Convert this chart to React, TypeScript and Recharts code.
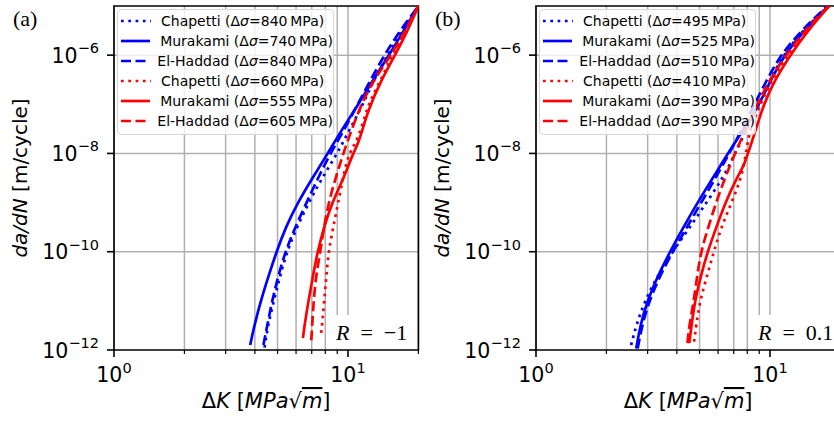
import { LineChart, Line, XAxis, YAxis, CartesianGrid, Legend, ReferenceArea } from "recharts";

// axes
const kTicks = [1, 2, 3, 4, 5, 6, 7, 8, 9, 10, 20];
const kGrid = [2, 3, 4, 5, 6, 7, 8, 9, 10];
const kMajor = [1, 10];
const kMajorExp = ["0", "1"];
const rateTicks = [1e-12, 1e-10, 1e-8, 1e-6];
const rateExp = ["\u221212", "\u221210", "\u22128", "\u22126"];
const rateGrid = [1e-10, 1e-8, 1e-6];

// (a) R = -1
const aStress = [840, 740, 840, 660, 555, 605];
const aChapBlueK = [4.4, 4.55, 4.82, 5.12, 5.48, 6.05, 6.8, 7.75, 9.0, 10.2, 11.6, 12.9, 14.8, 17.0, 20];
const aChapBlueRate = [1.12e-12, 3.16e-12, 1e-11, 3.16e-11, 1e-10, 3.16e-10, 1e-9, 3.16e-9, 1e-8, 3.16e-8, 1e-7, 3.16e-7, 1e-6, 3.16e-6, 1e-5];
const aMuraBlueK = [3.82, 3.98, 4.24, 4.57, 4.95, 5.42, 6.1, 7.05, 8.2, 9.45, 11.1, 12.8, 15.0, 17.3, 20];
const aMuraBlueRate = [1.26e-12, 3.16e-12, 1e-11, 3.16e-11, 1e-10, 3.16e-10, 1e-9, 3.16e-9, 1e-8, 3.16e-8, 1e-7, 3.16e-7, 1e-6, 3.16e-6, 1e-5];
const aElhBlueK = [4.35, 4.52, 4.74, 5.03, 5.4, 5.95, 6.65, 7.45, 8.4, 9.7, 11.0, 12.5, 14.3, 16.7, 20];
const aElhBlueRate = [1.26e-12, 3.16e-12, 1e-11, 3.16e-11, 1e-10, 3.16e-10, 1e-9, 3.16e-9, 1e-8, 3.16e-8, 1e-7, 3.16e-7, 1e-6, 3.16e-6, 1e-5];
const aChapRedK = [7.69, 7.92, 8.08, 8.26, 8.65, 9.08, 9.52, 10.06, 11.0, 11.9, 12.45, 14.7, 15.5, 17.6, 20];
const aChapRedRate = [2.24e-12, 1e-11, 3.16e-11, 1e-10, 3.16e-10, 1e-9, 3.16e-9, 1e-8, 1.86e-8, 6.46e-8, 1.2e-7, 5.75e-7, 1e-6, 3.16e-6, 1e-5];
const aMuraRedK = [6.42, 6.52, 6.78, 7.08, 7.41, 7.9, 8.55, 9.6, 10.5, 11.1, 12.2, 13.9, 15.9, 18.0, 20];
const aMuraRedRate = [1.74e-12, 3.16e-12, 1e-11, 3.16e-11, 1e-10, 3.16e-10, 1e-9, 3.16e-9, 1e-8, 1.58e-8, 7.94e-8, 3.16e-7, 1e-6, 3.16e-6, 1e-5];
const aElhRedK = [6.97, 7.13, 7.3, 7.61, 7.9, 8.27, 8.85, 9.55, 10.4, 11.4, 12.9, 15.3, 17.6, 20];
const aElhRedRate = [1.58e-12, 1e-11, 3.16e-11, 1e-10, 3.16e-10, 1e-9, 3.16e-9, 1e-8, 3.16e-8, 1e-7, 3.16e-7, 1e-6, 3.16e-6, 1e-5];

// (b) R = 0.1
const bStress = [495, 525, 510, 410, 390, 390];
const bChapBlueK = [2.55, 2.68, 2.92, 3.3, 3.83, 4.55, 5.35, 6.3, 7.1, 7.95, 9.0, 10.0, 11.4, 13.8, 17.7];
const bChapBlueRate = [1.26e-12, 3.16e-12, 1e-11, 3.16e-11, 1e-10, 3.16e-10, 1e-9, 3.16e-9, 1e-8, 3.16e-8, 1e-7, 3.16e-7, 1e-6, 3.16e-6, 1e-5];
const bMuraBlueK = [2.68, 2.79, 2.99, 3.31, 3.74, 4.27, 4.9, 5.7, 6.6, 7.75, 9.0, 10.1, 11.5, 14.0, 17.8];
const bMuraBlueRate = [1.07e-12, 3.16e-12, 1e-11, 3.16e-11, 1e-10, 3.16e-10, 1e-9, 3.16e-9, 1e-8, 3.16e-8, 1e-7, 3.16e-7, 1e-6, 3.16e-6, 1e-5];
const bElhBlueK = [2.72, 2.84, 3.05, 3.38, 3.84, 4.42, 5.08, 5.85, 6.7, 7.6, 8.6, 9.7, 11.1, 13.6, 17.6];
const bElhBlueRate = [1.07e-12, 3.16e-12, 1e-11, 3.16e-11, 1e-10, 3.16e-10, 1e-9, 3.16e-9, 1e-8, 3.16e-8, 1e-7, 3.16e-7, 1e-6, 3.16e-6, 1e-5];
const bChapRedK = [4.74, 4.84, 5.02, 5.38, 5.75, 6.2, 6.85, 7.55, 7.9, 8.2, 9.1, 10.2, 11.9, 14.2, 17.9];
const bChapRedRate = [1.48e-12, 3.16e-12, 1e-11, 3.16e-11, 1e-10, 3.16e-10, 1e-9, 3.16e-9, 1e-8, 3.16e-8, 1e-7, 3.16e-7, 1e-6, 3.16e-6, 1e-5];
const bMuraRedK = [4.52, 4.62, 4.78, 5.06, 5.41, 5.9, 6.45, 7.2, 7.75, 8.6, 9.4, 10.5, 12.2, 14.5, 17.9];
const bMuraRedRate = [1.38e-12, 3.16e-12, 1e-11, 3.16e-11, 1e-10, 3.16e-10, 1e-9, 3.16e-9, 5.5e-9, 2.57e-8, 1e-7, 3.16e-7, 1e-6, 3.16e-6, 1e-5];
const bElhRedK = [4.44, 4.52, 4.73, 4.88, 5.07, 5.45, 5.88, 6.42, 7.08, 7.9, 8.8, 10.0, 11.7, 14.1, 17.8];
const bElhRedRate = [1.38e-12, 3.16e-12, 1e-11, 3.16e-11, 1e-10, 3.16e-10, 1e-9, 3.16e-9, 1e-8, 3.16e-8, 1e-7, 3.16e-7, 1e-6, 3.16e-6, 1e-5];

const models = ["Chapetti", "Murakami", "El-Haddad", "Chapetti", "Murakami", "El-Haddad"];
const colors = ["#0000ff", "#0000ff", "#0000ff", "#ff0000", "#ff0000", "#ff0000"];
const dashes = ["2.7 4.6", undefined, "10 4.5", "2.7 4.6", undefined, "10 4.5"];

const FONT = "DejaVu Sans";
const LW = 2.7;

function build(ks: number[][], rates: number[][], stress: number[]) {
  return ks.map((k, i) => ({
    name: models[i],
    stress: stress[i],
    color: colors[i],
    dash: dashes[i],
    data: k.map((v, j) => ({ k: v, rate: rates[i][j] })),
  }));
}

const seriesA = build(
  [aChapBlueK, aMuraBlueK, aElhBlueK, aChapRedK, aMuraRedK, aElhRedK],
  [aChapBlueRate, aMuraBlueRate, aElhBlueRate, aChapRedRate, aMuraRedRate, aElhRedRate],
  aStress
);
const seriesB = build(
  [bChapBlueK, bMuraBlueK, bElhBlueK, bChapRedK, bMuraRedK, bElhRedK],
  [bChapBlueRate, bMuraBlueRate, bElhBlueRate, bChapRedRate, bMuraRedRate, bElhRedRate],
  bStress
);

function KTick(props: any) {
  const { x, y, payload } = props;
  const i = kMajor.indexOf(payload.value);
  const major = i >= 0;
  return (
    <g>
      <line x1={x} x2={x} y1={y} y2={y + (major ? 7 : 4)} stroke="#000" strokeWidth={major ? 1.6 : 1.2} />
      {major && (
        <text x={x} y={y + 32} textAnchor="middle" fontFamily={FONT} fontSize={20.5} fill="#000">
          10<tspan dy={-9.5} fontSize={14.5}>{kMajorExp[i]}</tspan>
        </text>
      )}
    </g>
  );
}

function RateTick(props: any) {
  const { x, y, payload } = props;
  const i = rateTicks.indexOf(payload.value);
  return (
    <g>
      <line x1={x - 7} x2={x} y1={y} y2={y} stroke="#000" strokeWidth={1.6} />
      <text x={x - 15} y={y + 7.5} textAnchor="end" fontFamily={FONT} fontSize={20.5} fill="#000">
        10<tspan dy={-9.5} fontSize={14.5}>{rateExp[i]}</tspan>
      </text>
    </g>
  );
}

function KTitle(props: any) {
  const vb = props.viewBox || { x: 114, y: 350, width: 304, height: 71 };
  return (
    <text x={vb.x + vb.width / 2} y={vb.y + 58} textAnchor="middle" fontFamily={FONT} fontSize={21} fill="#000">
      Δ<tspan fontStyle="italic">K</tspan> [<tspan fontStyle="italic">MPa</tspan>√
      <tspan fontStyle="italic" textDecoration="overline">m</tspan>]
    </text>
  );
}

function RateTitle(props: any) {
  const vb = props.viewBox || { x: 0, y: 6, width: 114, height: 344 };
  const cx = vb.x + 27;
  const cy = vb.y + vb.height / 2;
  return (
    <text x={cx} y={cy} transform={`rotate(-90, ${cx}, ${cy})`} textAnchor="middle" fontFamily={FONT} fontSize={20} fill="#000">
      <tspan fontStyle="italic">da/dN</tspan> [m/cycle]
    </text>
  );
}

function LegendBox({ items }: { items: any[] }) {
  return (
    <div
      style={{
        width: 217,
        height: 126,
        boxSizing: "border-box",
        border: "1px solid #d6d6d6",
        borderRadius: 4,
        background: "rgba(255,255,255,0.8)",
        fontFamily: FONT,
        fontSize: 14,
        color: "#000",
        paddingTop: 1,
      }}
    >
      {items.map((s, i) => (
        <div key={i} style={{ height: 20, display: "flex", alignItems: "center", whiteSpace: "nowrap" }}>
          <svg width={30} height={6} style={{ marginLeft: 3 }}>
            <line x1={0} x2={30} y1={3} y2={3} stroke={s.color} strokeWidth={LW} strokeDasharray={s.dash} />
          </svg>
          <span style={{ marginLeft: 10 }}>
            {s.name} (Δ<i>σ</i>={s.stress}
            {"\u2009"}MPa)
          </span>
        </div>
      ))}
    </div>
  );
}

function Panel({ series, tag, ratio }: { series: any[]; tag: string; ratio: string }) {
  return (
    <div style={{ position: "relative", width: 420, height: 421 }}>
      <LineChart width={420} height={421} margin={{ top: 6, right: 1.6, bottom: 0, left: 0 }}>
        <CartesianGrid stroke="#b0b0b0" strokeWidth={1.5} horizontalValues={rateGrid} verticalValues={kGrid} />
        <XAxis
          type="number"
          dataKey="k"
          scale="log"
          domain={[1, 20]}
          allowDataOverflow
          ticks={kTicks}
          interval={0}
          height={71}
          tickSize={0}
          tickMargin={0}
          tickLine={false}
          axisLine={false}
          tick={<KTick />}
          label={<KTitle />}
        />
        <YAxis
          type="number"
          dataKey="rate"
          scale="log"
          domain={[1e-12, 1e-5]}
          allowDataOverflow
          ticks={rateTicks}
          interval={0}
          width={114}
          tickSize={0}
          tickMargin={0}
          tickLine={false}
          axisLine={false}
          tick={<RateTick />}
          label={<RateTitle />}
        />
        {series.map((s, i) => (
          <Line
            key={i}
            data={s.data}
            dataKey="rate"
            type="basis"
            stroke={s.color}
            strokeWidth={LW}
            strokeDasharray={s.dash}
            dot={false}
            activeDot={false}
            isAnimationActive={false}
          />
        ))}
        <ReferenceArea x1={1} x2={20} y1={1e-12} y2={1e-5} fill="none" stroke="#000" strokeWidth={1.7} ifOverflow="visible" />
        <Legend
          layout="vertical"
          align="center"
          verticalAlign="middle"
          content={() => <LegendBox items={series} />}
          wrapperStyle={{ left: 117, top: 9, width: 217, height: 126 }}
        />
      </LineChart>
      <svg width={420} height={421} style={{ position: "absolute", left: 0, top: 0, pointerEvents: "none" }}>
        <rect x={332} y={315} width={85} height={34} fill="#fff" />
        <text x={336} y={340} fontFamily="Liberation Serif" fontSize={22} fill="#000">
          <tspan fontStyle="italic">R</tspan>
          {"\u2002=\u2002" + ratio}
        </text>
        <text x={13} y={26} fontFamily="Liberation Serif" fontSize={22} fill="#000">
          {tag}
        </text>
      </svg>
    </div>
  );
}

export default function App() {
  return (
    <div style={{ position: "absolute", left: 0, top: 0, width: 834, height: 421, overflow: "hidden", background: "#fff" }}>
      <div style={{ position: "absolute", left: 0, top: 0 }}>
        <Panel series={seriesA} tag="(a)" ratio={"\u22121"} />
      </div>
      <div style={{ position: "absolute", left: 422, top: 0 }}>
        <Panel series={seriesB} tag="(b)" ratio="0.1" />
      </div>
    </div>
  );
}
